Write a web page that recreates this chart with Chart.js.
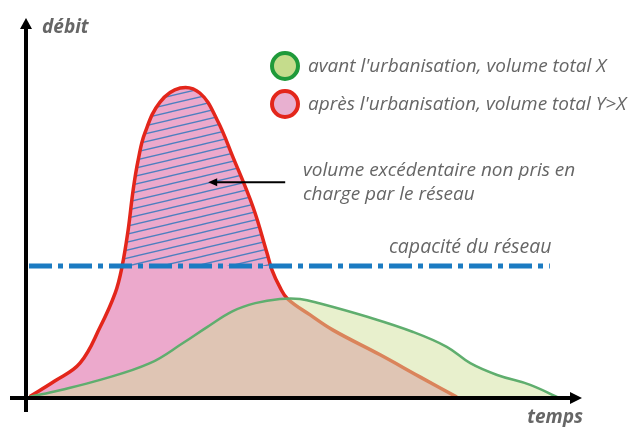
<!DOCTYPE html>
<html lang="fr">
<head>
<meta charset="utf-8">
<title>Débit avant / après urbanisation</title>
<script src="https://cdn.jsdelivr.net/npm/chart.js@4.4.1/dist/chart.umd.min.js"></script>
<style>
  html, body { margin: 0; padding: 0; background: #fff; }
  #wrap { width: 635px; height: 427px; position: relative; }
</style>
</head>
<body>
<div id="wrap"><canvas id="hydro"></canvas></div>
<script>
const tempsAvant = [0, 5.5, 12.7, 21.6, 27.5, 31.8, 36.4, 40.4, 44.8, 48.4, 52, 60.4, 68.6, 74.6, 78.8, 83.6, 89.5, 94.3];
const debitAvant = [0, 1.8, 4.5, 8.9, 14.2, 18.4, 22.6, 24.7, 25.8, 25.8, 24.6, 21.1, 17.1, 13.2, 8.9, 5.8, 3.2, 0];
const tempsApres = [0, 4.6, 9.1, 12.7, 15.4, 16.6, 17.7, 18.6, 19.5, 20.7, 23.4, 27, 30.5, 33.6, 36.4, 40, 42.5, 43.4, 44.8, 46.2, 50.2, 54.3, 62.7, 69.8, 76.4];
const debitApres = [0, 4.2, 8.9, 18.4, 27.4, 34.2, 43.9, 54.5, 62.4, 69.5, 77.6, 81.3, 80, 72.9, 63.2, 50, 37.9, 33.4, 28.9, 25.8, 21.6, 17.6, 11.1, 5.3, 0];
const capaciteReseau = 34.5;
const capaciteTemps = [0, 93];

const legendLabels = ["avant l'urbanisation, volume total X", "après l'urbanisation, volume total Y>X"];
const excedentLabel = ['volume excédentaire non pris en', 'charge par le réseau'];
const capaciteLabel = 'capacité du réseau';
const axisLabels = { y: 'débit', x: 'temps' };

const RED = '#e3261b';
const PINK = '#eca9cc';
const GREEN_LINE = '#5fae6e';
const GREEN_FILL = 'rgba(209, 225, 155, 0.5)';
const BLUE = '#1b7bc2';
const TEXT = '#666666';

const pts = (xs, ys) => xs.map((t, i) => ({ x: t, y: ys[i] }));

// hachures bleues légèrement inclinées
function hatchPattern() {
    const c = document.createElement('canvas');
    c.width = 34; c.height = 8;
    const g = c.getContext('2d');
    g.strokeStyle = '#4d7fbf';
    g.lineWidth = 1.3;
    [-8, 0, 8].forEach(d => {
        g.beginPath();
        g.moveTo(0, 8 + d);
        g.lineTo(34, d);
        g.stroke();
    });
    return g.createPattern(c, 'repeat');
}

const decorations = {
    id: 'decorations',
    afterDraw(chart) {
        const { ctx, chartArea, scales: { x, y } } = chart;
        const x0 = x.getPixelForValue(0);
        const y0 = y.getPixelForValue(0);
        ctx.save();

        // axes avec flèches
        const ax = x0 - 3, ay = y0 + 1;
        ctx.strokeStyle = '#000';
        ctx.fillStyle = '#000';
        ctx.lineWidth = 4;
        ctx.beginPath();
        ctx.moveTo(ax, ay + 14);
        ctx.lineTo(ax, chartArea.top + 8);
        ctx.moveTo(10, ay);
        ctx.lineTo(chartArea.right - 16, ay);
        ctx.stroke();
        ctx.beginPath();
        ctx.moveTo(ax, chartArea.top + 1);
        ctx.lineTo(ax - 6, chartArea.top + 12);
        ctx.lineTo(ax + 6, chartArea.top + 12);
        ctx.closePath();
        ctx.fill();
        ctx.beginPath();
        ctx.moveTo(chartArea.right - 7, ay);
        ctx.lineTo(chartArea.right - 19, ay - 6);
        ctx.lineTo(chartArea.right - 19, ay + 6);
        ctx.closePath();
        ctx.fill();

        // titres des axes
        ctx.fillStyle = TEXT;
        ctx.font = 'italic bold 19px "Open Sans"';
        ctx.textBaseline = 'alphabetic';
        ctx.textAlign = 'left';
        ctx.fillText(axisLabels.y, 42, 33);
        ctx.textAlign = 'right';
        ctx.fillText(axisLabels.x, chartArea.right - 6, 423);

        // légende
        const legend = [
            { fill: '#c5dc8c', stroke: '#1f9a3a', cy: 66 },
            { fill: '#e8b0d0', stroke: RED, cy: 104 }
        ];
        ctx.textAlign = 'left';
        ctx.font = 'italic 19px "Open Sans"';
        legend.forEach((l, i) => {
            ctx.beginPath();
            ctx.arc(285, l.cy, 13, 0, Math.PI * 2);
            ctx.fillStyle = l.fill;
            ctx.fill();
            ctx.lineWidth = 4;
            ctx.strokeStyle = l.stroke;
            ctx.stroke();
            ctx.fillStyle = TEXT;
            ctx.fillText(legendLabels[i], 308, l.cy + 6);
        });

        // volume excédentaire : flèche + texte
        const tipX = x.getPixelForValue(32), tipY = y.getPixelForValue(56.5);
        ctx.strokeStyle = '#000';
        ctx.fillStyle = '#000';
        ctx.lineWidth = 2;
        ctx.beginPath();
        ctx.moveTo(tipX + 6, tipY);
        ctx.lineTo(tipX + 77, tipY);
        ctx.stroke();
        ctx.beginPath();
        ctx.moveTo(tipX, tipY);
        ctx.lineTo(tipX + 9, tipY - 4);
        ctx.lineTo(tipX + 9, tipY + 4);
        ctx.closePath();
        ctx.fill();

        ctx.fillStyle = TEXT;
        ctx.font = 'italic 19px "Open Sans"';
        ctx.fillText(excedentLabel[0], 303, 176);
        ctx.fillText(excedentLabel[1], 303, 200);

        // capacité du réseau
        ctx.font = 'italic 19.5px "Open Sans"';
        ctx.fillText(capaciteLabel, 389, y.getPixelForValue(capaciteReseau) - 13);
        ctx.restore();
    }
};

const curve = { tension: 0.4 };

new Chart(document.getElementById('hydro'), {
    type: 'line',
    data: {
        datasets: [
            {
                // capacité du réseau (trait mixte)
                data: pts(capaciteTemps, [capaciteReseau, capaciteReseau]),
                borderColor: BLUE,
                borderWidth: 5,
                borderDash: [23, 6, 5, 6],
                tension: 0,
                fill: false
            },
            {
                // avant urbanisation
                data: pts(tempsAvant, debitAvant),
                borderColor: GREEN_LINE,
                borderWidth: 2.5,
                backgroundColor: GREEN_FILL,
                fill: 'origin',
                ...curve
            },
            {
                // après urbanisation : contour
                data: pts(tempsApres, debitApres),
                borderColor: RED,
                borderWidth: 3.5,
                fill: false,
                ...curve
            },
            {
                // après urbanisation : hachures au-dessus de la capacité
                data: pts(tempsApres, debitApres),
                borderColor: 'rgba(0,0,0,0)',
                borderWidth: 1,
                fill: { target: { value: capaciteReseau }, above: hatchPattern(), below: 'rgba(0,0,0,0)' },
                ...curve
            },
            {
                // après urbanisation : remplissage
                data: pts(tempsApres, debitApres),
                borderColor: 'rgba(0,0,0,0)',
                borderWidth: 1,
                backgroundColor: PINK,
                fill: 'origin',
                ...curve
            }
        ]
    },
    options: {
        responsive: true,
        maintainAspectRatio: false,
        animation: false,
        layout: { padding: { left: 29, right: 46, top: 17, bottom: 30 } },
        elements: { point: { radius: 0, hoverRadius: 0 } },
        scales: {
            x: { type: 'linear', min: 0, max: 100, display: false },
            y: { type: 'linear', min: 0, max: 100, display: false }
        },
        plugins: {
            legend: { display: false },
            tooltip: { enabled: false }
        }
    },
    plugins: [decorations]
});
</script>
</body>
</html>
